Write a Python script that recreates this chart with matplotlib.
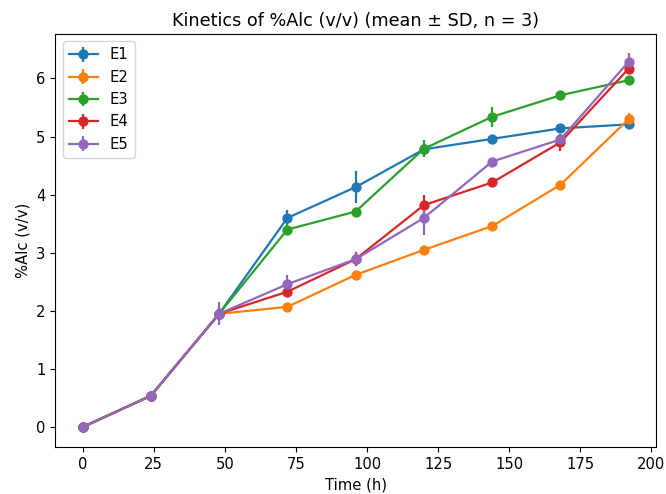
import matplotlib
matplotlib.use('Agg')
import matplotlib.pyplot as plt
import numpy as np

time_h = [0, 24, 48, 72, 96, 120, 144, 168, 192]

e1 = [0.0, 0.54, 1.95, 3.60, 4.13, 4.78, 4.96, 5.14, 5.21]
e1_sd = [0.02, 0.03, 0.10, 0.13, 0.28, 0.10, 0.06, 0.06, 0.06]
e2 = [0.0, 0.54, 1.95, 2.07, 2.62, 3.05, 3.46, 4.17, 5.30]
e2_sd = [0.02, 0.03, 0.10, 0.05, 0.06, 0.05, 0.05, 0.06, 0.10]
e3 = [0.0, 0.54, 1.95, 3.40, 3.71, 4.79, 5.34, 5.71, 5.97]
e3_sd = [0.02, 0.03, 0.10, 0.09, 0.06, 0.15, 0.17, 0.05, 0.05]
e4 = [0.0, 0.54, 1.95, 2.33, 2.89, 3.82, 4.21, 4.90, 6.17]
e4_sd = [0.02, 0.03, 0.10, 0.07, 0.12, 0.18, 0.05, 0.15, 0.08]
e5 = [0.0, 0.54, 1.95, 2.46, 2.89, 3.60, 4.57, 4.95, 6.29]
e5_sd = [0.02, 0.03, 0.20, 0.15, 0.10, 0.29, 0.06, 0.08, 0.15]

series = [('E1', e1, e1_sd), ('E2', e2, e2_sd), ('E3', e3, e3_sd),
          ('E4', e4, e4_sd), ('E5', e5, e5_sd)]

plt.rcParams.update({'font.size': 10.6, 'lines.linewidth': 1.6,
                     'lines.markersize': 6.4})

fig, ax = plt.subplots(figsize=(6.66, 4.94), dpi=100)
for name, y, sd in series:
    ax.errorbar(time_h, y, yerr=sd, marker='o', label=name)

ax.set_title('Kinetics of %Alc (v/v) (mean \u00b1 SD, n = 3)')
ax.set_xlabel('Time (h)')
ax.set_ylabel('%Alc (v/v)')
ax.legend(loc='upper left')
fig.subplots_adjust(left=0.083, right=0.985, bottom=0.095, top=0.931)
fig.savefig('out.png')
